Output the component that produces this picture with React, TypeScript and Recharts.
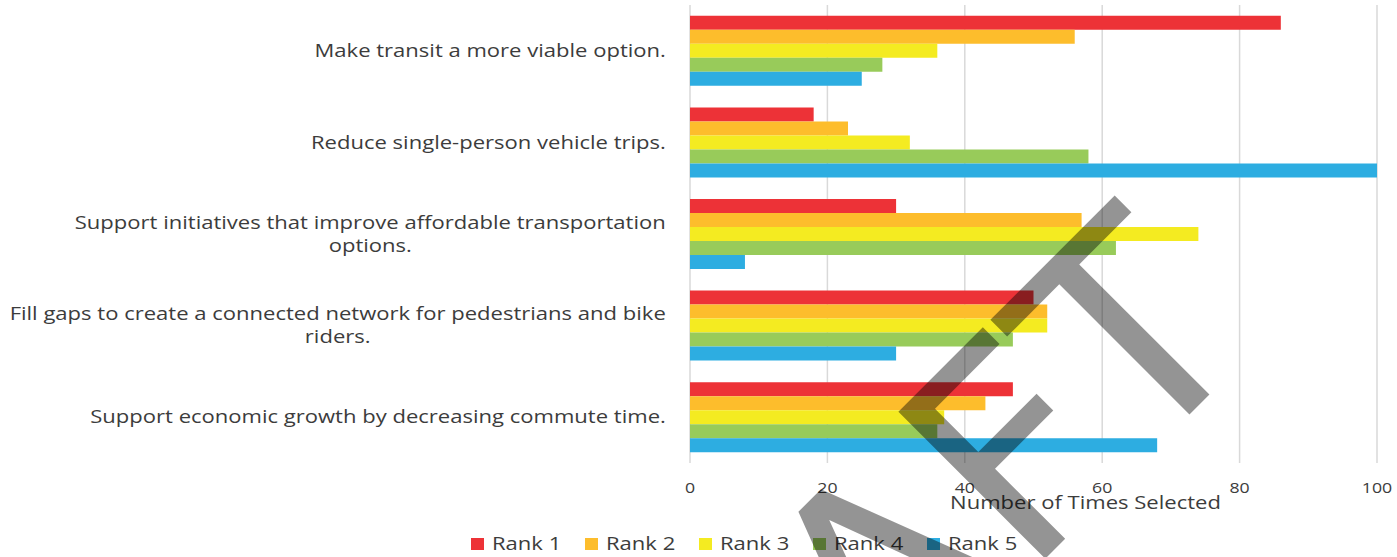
import React from 'react';
import { BarChart, Bar, XAxis, YAxis, CartesianGrid, Legend } from 'recharts';

const categories = [
  'Make transit a more viable option.',
  'Reduce single-person vehicle trips.',
  'Support initiatives that improve affordable transportation options.',
  'Fill gaps to create a connected network for pedestrians and bike riders.',
  'Support economic growth by decreasing commute time.',
];

const rank1 = [86, 18, 30, 50, 47];
const rank2 = [56, 23, 57, 52, 43];
const rank3 = [36, 32, 74, 52, 37];
const rank4 = [28, 58, 62, 47, 36];
const rank5 = [25, 100, 8, 30, 68];

const xTicks = [0, 20, 40, 60, 80, 100];

const seriesNames = ['Rank 1', 'Rank 2', 'Rank 3', 'Rank 4', 'Rank 5'];
const seriesColors = ['#ED3237', '#FDBD2C', '#F4EB21', '#98CB5A', '#2DADE1'];
const seriesValues = [rank1, rank2, rank3, rank4, rank5];

const data = categories.map((name, i) => {
  const row: Record<string, string | number> = { name };
  seriesNames.forEach((s, k) => {
    row[s] = seriesValues[k][i];
  });
  return row;
});

// the source text is a bit wide, so glyphs get stretched horizontally
const FONT = '"Open Sans", sans-serif';
const SX = 1.26;
const LABEL_SIZE = 17.5;
const WRAP_WIDTH = 668;
const TEXT_COLOR = '#3c3c3c';

let ctx: CanvasRenderingContext2D | null = null;
function measure(text: string, size = LABEL_SIZE) {
  if (!ctx) ctx = document.createElement('canvas').getContext('2d');
  if (!ctx) return text.length * size * 0.55 * SX;
  ctx.font = `${size}px ${FONT}`;
  return ctx.measureText(text).width * SX;
}

function wrap(text: string) {
  const words = text.split(' ');
  const lines: string[] = [];
  let cur = '';
  words.forEach((w) => {
    const next = cur ? cur + ' ' + w : w;
    if (cur && measure(next) > WRAP_WIDTH) {
      lines.push(cur);
      cur = w;
    } else {
      cur = next;
    }
  });
  if (cur) lines.push(cur);
  return lines;
}

const WideText = ({ x, y, anchor = 'start', size = LABEL_SIZE, sx = SX, children }: any) => (
  <g transform={`translate(${x},${y}) scale(${sx},1)`}>
    <text x={0} y={0} textAnchor={anchor} fill={TEXT_COLOR} fontSize={size} fontFamily={FONT}>
      {children}
    </text>
  </g>
);

const CategoryTick = ({ x, y, payload }: any) => {
  const lines = wrap(payload.value);
  const widest = Math.max(...lines.map((l) => measure(l)));
  const right = x - 24;
  const lh = 23;
  const y0 = y - ((lines.length - 1) * lh) / 2 + 6.2;
  return (
    <g>
      {lines.map((l, i) => (
        <WideText key={i} x={right - widest / 2} y={y0 + i * lh} anchor="middle">
          {l}
        </WideText>
      ))}
    </g>
  );
};

const ValueTick = ({ x, y, payload }: any) => (
  <WideText x={x} y={y + 30} anchor="middle" size={15} sx={1.18}>
    {payload.value}
  </WideText>
);

const AxisTitle = ({ viewBox }: any) => (
  <WideText x={viewBox.x + viewBox.width / 2 + 52} y={viewBox.y + 46} anchor="middle">
    Number of Times Selected
  </WideText>
);

const RankLegend = () => {
  const step = 114;
  const total = seriesNames.length * step - 26;
  const start = 743 - total / 2;
  return (
    <svg width={1397} height={26} style={{ display: 'block' }}>
      {seriesNames.map((s, i) => (
        <g key={s}>
          <rect x={start + i * step} y={7} width={13} height={12} fill={seriesColors[i]} />
          <WideText x={start + i * step + 21} y={19}>
            {s}
          </WideText>
        </g>
      ))}
    </svg>
  );
};

export default function App() {
  return (
    <div style={{ position: 'absolute', left: 0, top: 0, width: 1397, height: 557, background: '#fff' }}>
      <BarChart
        width={1397}
        height={557}
        data={data}
        layout="vertical"
        margin={{ top: 5, right: 20, left: 0, bottom: 0 }}
        barCategoryGap="11.8%"
        barGap={0}
      >
        <CartesianGrid horizontal={false} stroke="#D9D9D9" strokeWidth={1.5} />
        <XAxis
          type="number"
          domain={[0, 100]}
          ticks={xTicks}
          height={60}
          axisLine={false}
          tickLine={false}
          tickSize={0}
          tickMargin={0}
          tick={<ValueTick />}
          label={<AxisTitle />}
          interval={0}
        />
        <YAxis
          type="category"
          dataKey="name"
          width={690}
          axisLine={false}
          tickLine={false}
          tickSize={0}
          tickMargin={0}
          tick={<CategoryTick />}
          interval={0}
        />
        <Legend
          verticalAlign="bottom"
          height={34}
          wrapperStyle={{ left: 0, top: 531, width: 1397 }}
          content={<RankLegend />}
        />
        {seriesNames.map((s, i) => (
          <Bar key={s} dataKey={s} fill={seriesColors[i]} isAnimationActive={false} />
        ))}
      </BarChart>
      <svg
        width={1397}
        height={557}
        style={{ position: 'absolute', left: 0, top: 0, pointerEvents: 'none' }}
      >
        <text
          x={1261}
          y={343}
          textAnchor="end"
          transform="rotate(-45 1261 343)"
          fontFamily='"DejaVu Sans", sans-serif'
          fontSize={285}
          fill="#000"
          fillOpacity={0.42}
        >
          DRAFT
        </text>
      </svg>
    </div>
  );
}
